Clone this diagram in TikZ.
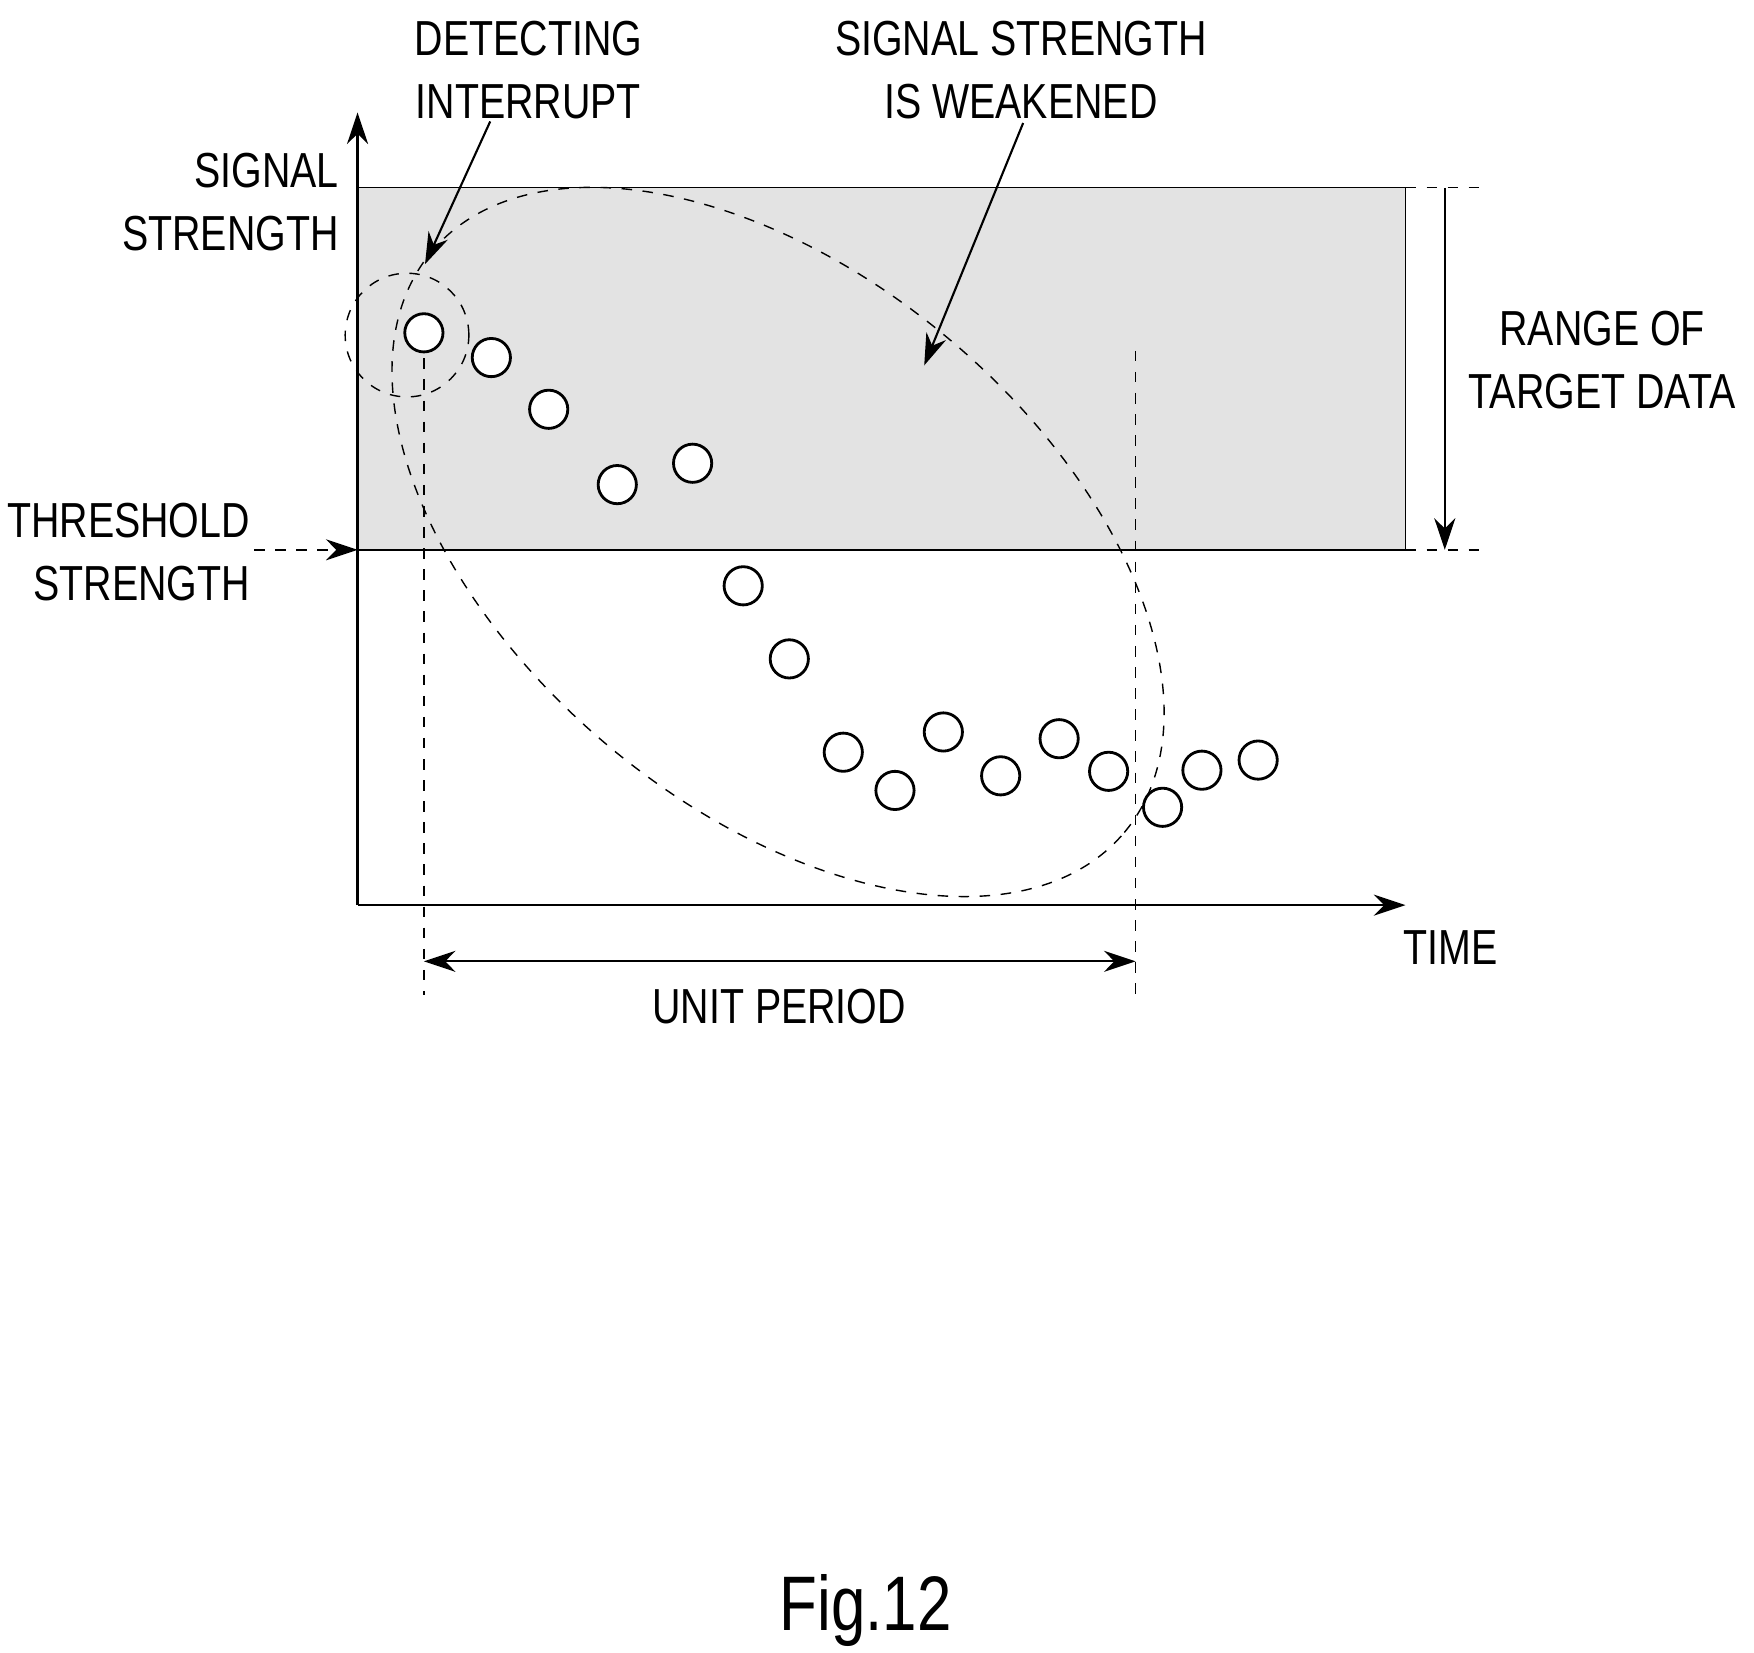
\documentclass[tikz,border=0pt]{standalone}
\usepackage{fontspec}
\setmainfont[FakeStretch=0.8]{Liberation Sans}
\usetikzlibrary{arrows.meta}
\begin{document}
\begin{tikzpicture}[x=0.011244cm,y=-0.011244cm,
  lbl/.style={font=\fontsize{14}{18}\selectfont, align=center, inner sep=1pt},
  sample/.style={circle, draw, thick, fill=white, minimum size=34*0.011244cm, inner sep=0pt},
  guide/.style={dashed, thin},
  tip/.style={-{Stealth[length=9pt,width=6pt]}}]
\useasboundingbox (0,0) rectangle (1560,1470);
% target range
\fill[gray!22] (318,167) rectangle (1250,489);
\draw[thin] (318,489) -- (1250,489) -- (1250,167) -- (318,167);
\draw[guide] (1250,167) -- (1315,167);
\draw[guide] (1250,489) -- (1315,489);
\coordinate (rtop) at (1285,167);
\coordinate (rbot) at (1285,489);
\draw[tip, semithick] (rtop) -- (rbot);
\node[lbl] (range) at (1425,320) {RANGE OF\\TARGET DATA};
% axes
\coordinate (origin) at (318,805);
\coordinate (ytop) at (318,100);
\coordinate (xend) at (1250,805);
\draw[tip, semithick] (origin) -- (ytop);
\draw[tip, semithick] (origin) -- (xend);
\node[lbl, anchor=east, align=right] (ylab) at (305,180) {SIGNAL\\STRENGTH};
\node[lbl] (time) at (1290,843) {TIME};
\node[lbl, anchor=east, align=right] (thr) at (226,491) {THRESHOLD\\STRENGTH};
\coordinate (thrin) at (318,489);
\draw[guide, tip] (thr.east |- thrin) -- (thrin);
% unit period
\coordinate (ustart) at (377,855);
\coordinate (uend) at (1010,855);
\draw[guide] (377,300) -- (377,885);
\draw[guide] (1010,312) -- (1010,885);
\draw[{Stealth[length=9pt,width=6pt]}-{Stealth[length=9pt,width=6pt]}, semithick] (ustart) -- (uend);
\node[lbl] (unit) at (693,895) {UNIT PERIOD};
% samples
\foreach \px/\py [count=\i] in {377/296,437/318,488/364,549/431,616/412,661/521,702/586,750/669,796/703,839/651,890/690,942/657,986/686,1034/718,1069/685,1119/676}
  \node[sample] (s\i) at (\px,\py) {};
% groups
\draw[dashed] (362,298) circle (55*0.011244cm);
\draw[dashed, rotate around={-40:(692,482)}] (692,482) ellipse ({402*0.011244cm} and {236*0.011244cm});
\node[lbl] (detect) at (470,62) {DETECTING\\INTERRUPT};
\node[lbl] (weak) at (908,62) {SIGNAL STRENGTH\\IS WEAKENED};
\coordinate (dtip) at (378,235);
\coordinate (wtip) at (822,325);
\draw[tip, semithick] (436,108) -- (dtip);
\draw[tip, semithick] (weak.south) ++(2,0) -- (wtip);
\node[font=\fontsize{22}{26}\selectfont] (fig) at (770,1432) {Fig.12};
\end{tikzpicture}
\end{document}
